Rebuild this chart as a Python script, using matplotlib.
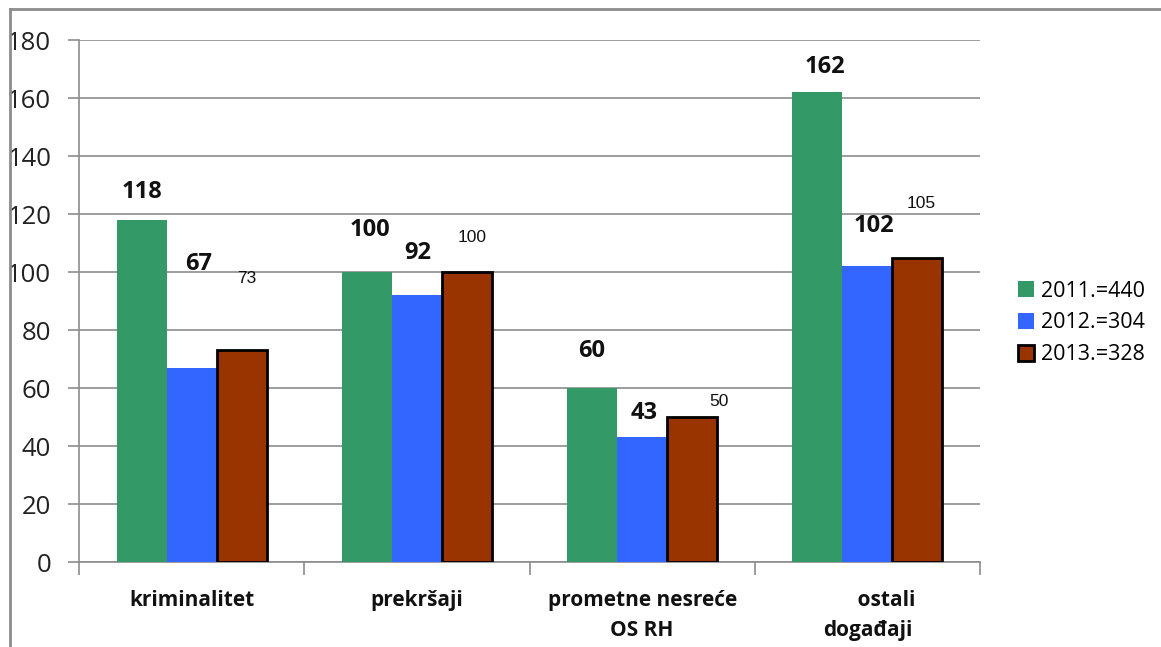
import matplotlib
matplotlib.use("Agg")
import matplotlib.pyplot as plt
from matplotlib.lines import Line2D
import numpy as np

categories = ["kriminalitet", "prekršaji", "prometne nesreće\nOS RH", "       ostali\ndogađaji"]
series_names = ["2011.=440", "2012.=304", "2013.=328"]
v2011 = [118, 100, 60, 162]
v2012 = [67, 92, 43, 102]
v2013 = [73, 100, 50, 105]
yticks = [0, 20, 40, 60, 80, 100, 120, 140, 160, 180]

colors = ["#339966", "#3366FF", "#993300"]
edges = ["none", "none", "black"]

# label offsets in pixels (dx, dy) relative to the top centre of each bar
label_offsets = [
    [(0, 28), (7, 104), (5, 72)],
    [(3, 42), (1, 42), (5, 35)],
    [(0, 37), (2, 24), (27, 15)],
    [(8, 25), (7, 40), (4, 54)],
]

fig = plt.figure(figsize=(11.61, 6.47), dpi=100)
ax = fig.add_axes([79/1161, 1 - 562/647, (980 - 79)/1161, (562 - 40)/647])

x = np.arange(len(categories))
w = 0.222
data = [v2011, v2012, v2013]
for i, vals in enumerate(data):
    pos = x + (i - 1) * w
    ax.bar(pos, vals, width=w, color=colors[i], edgecolor=edges[i],
           linewidth=2 if i == 2 else 0, label=series_names[i], zorder=3)

ax.set_xlim(-0.5, len(categories) - 0.5)
ax.set_ylim(0, 180)
ax.set_yticks(yticks)
ax.set_yticklabels([str(t) for t in yticks], fontsize=18.5, family="Open Sans", color="#222222")
ax.yaxis.grid(True, color="#8c8c8c", linewidth=1.2, zorder=0)
ax.set_axisbelow(True)

ax.set_xticks(np.arange(-0.5, len(categories) + 0.5, 1.0))
ax.set_xticklabels([])
ax.tick_params(axis="x", length=9, color="#8c8c8c", width=1.2)
ax.tick_params(axis="y", length=8, color="#8c8c8c", width=1.2, pad=12)
for j, c in enumerate(categories):
    ax.text(j, -9.5, c, ha="center", va="top", fontsize=15, fontweight="bold",
            family="Open Sans", linespacing=1.6, transform=ax.transData, color="#111111")

for s in ["top", "right"]:
    ax.spines[s].set_visible(False)
for s in ["left", "bottom"]:
    ax.spines[s].set_color("#8c8c8c")
    ax.spines[s].set_linewidth(1.2)

# data labels
px_per_unit = (562 - 40) / 180.0
px_per_cat = (980 - 79) / len(categories)
for j in range(len(categories)):
    for i, vals in enumerate(data):
        dx, dy = label_offsets[j][i]
        xc = x[j] + (i - 1) * w + dx / px_per_cat
        yc = vals[j] + dy / px_per_unit
        if i < 2:
            ax.text(xc, yc, str(vals[j]), ha="center", va="center", fontsize=17,
                    fontweight="bold", family="Open Sans", color="#111111")
        else:
            ax.text(xc, yc, str(vals[j]), ha="center", va="center", fontsize=12.5,
                    family="Liberation Sans", color="#111111")

handles = [plt.Rectangle((0, 0), 1, 1, facecolor=colors[i], edgecolor=edges[i],
                         linewidth=2 if i == 2 else 0) for i in range(3)]
fig.legend(handles, series_names, loc="center left", bbox_to_anchor=(1018/1161, 1 - 323/647),
           frameon=False, prop={"family": "Open Sans", "size": 15.5},
           handlelength=0.75, handleheight=0.75, handletextpad=0.3, labelspacing=0.5,
           borderpad=0, borderaxespad=0)

# outer frame
fig.add_artist(Line2D([10/1161, 10/1161], [0, 1 - 9/647], transform=fig.transFigure,
                      color="#8c8c8c", linewidth=2))
fig.add_artist(Line2D([10/1161, 1], [1 - 9/647, 1 - 9/647], transform=fig.transFigure,
                      color="#8c8c8c", linewidth=2))

fig.savefig("out.png", dpi=100)
